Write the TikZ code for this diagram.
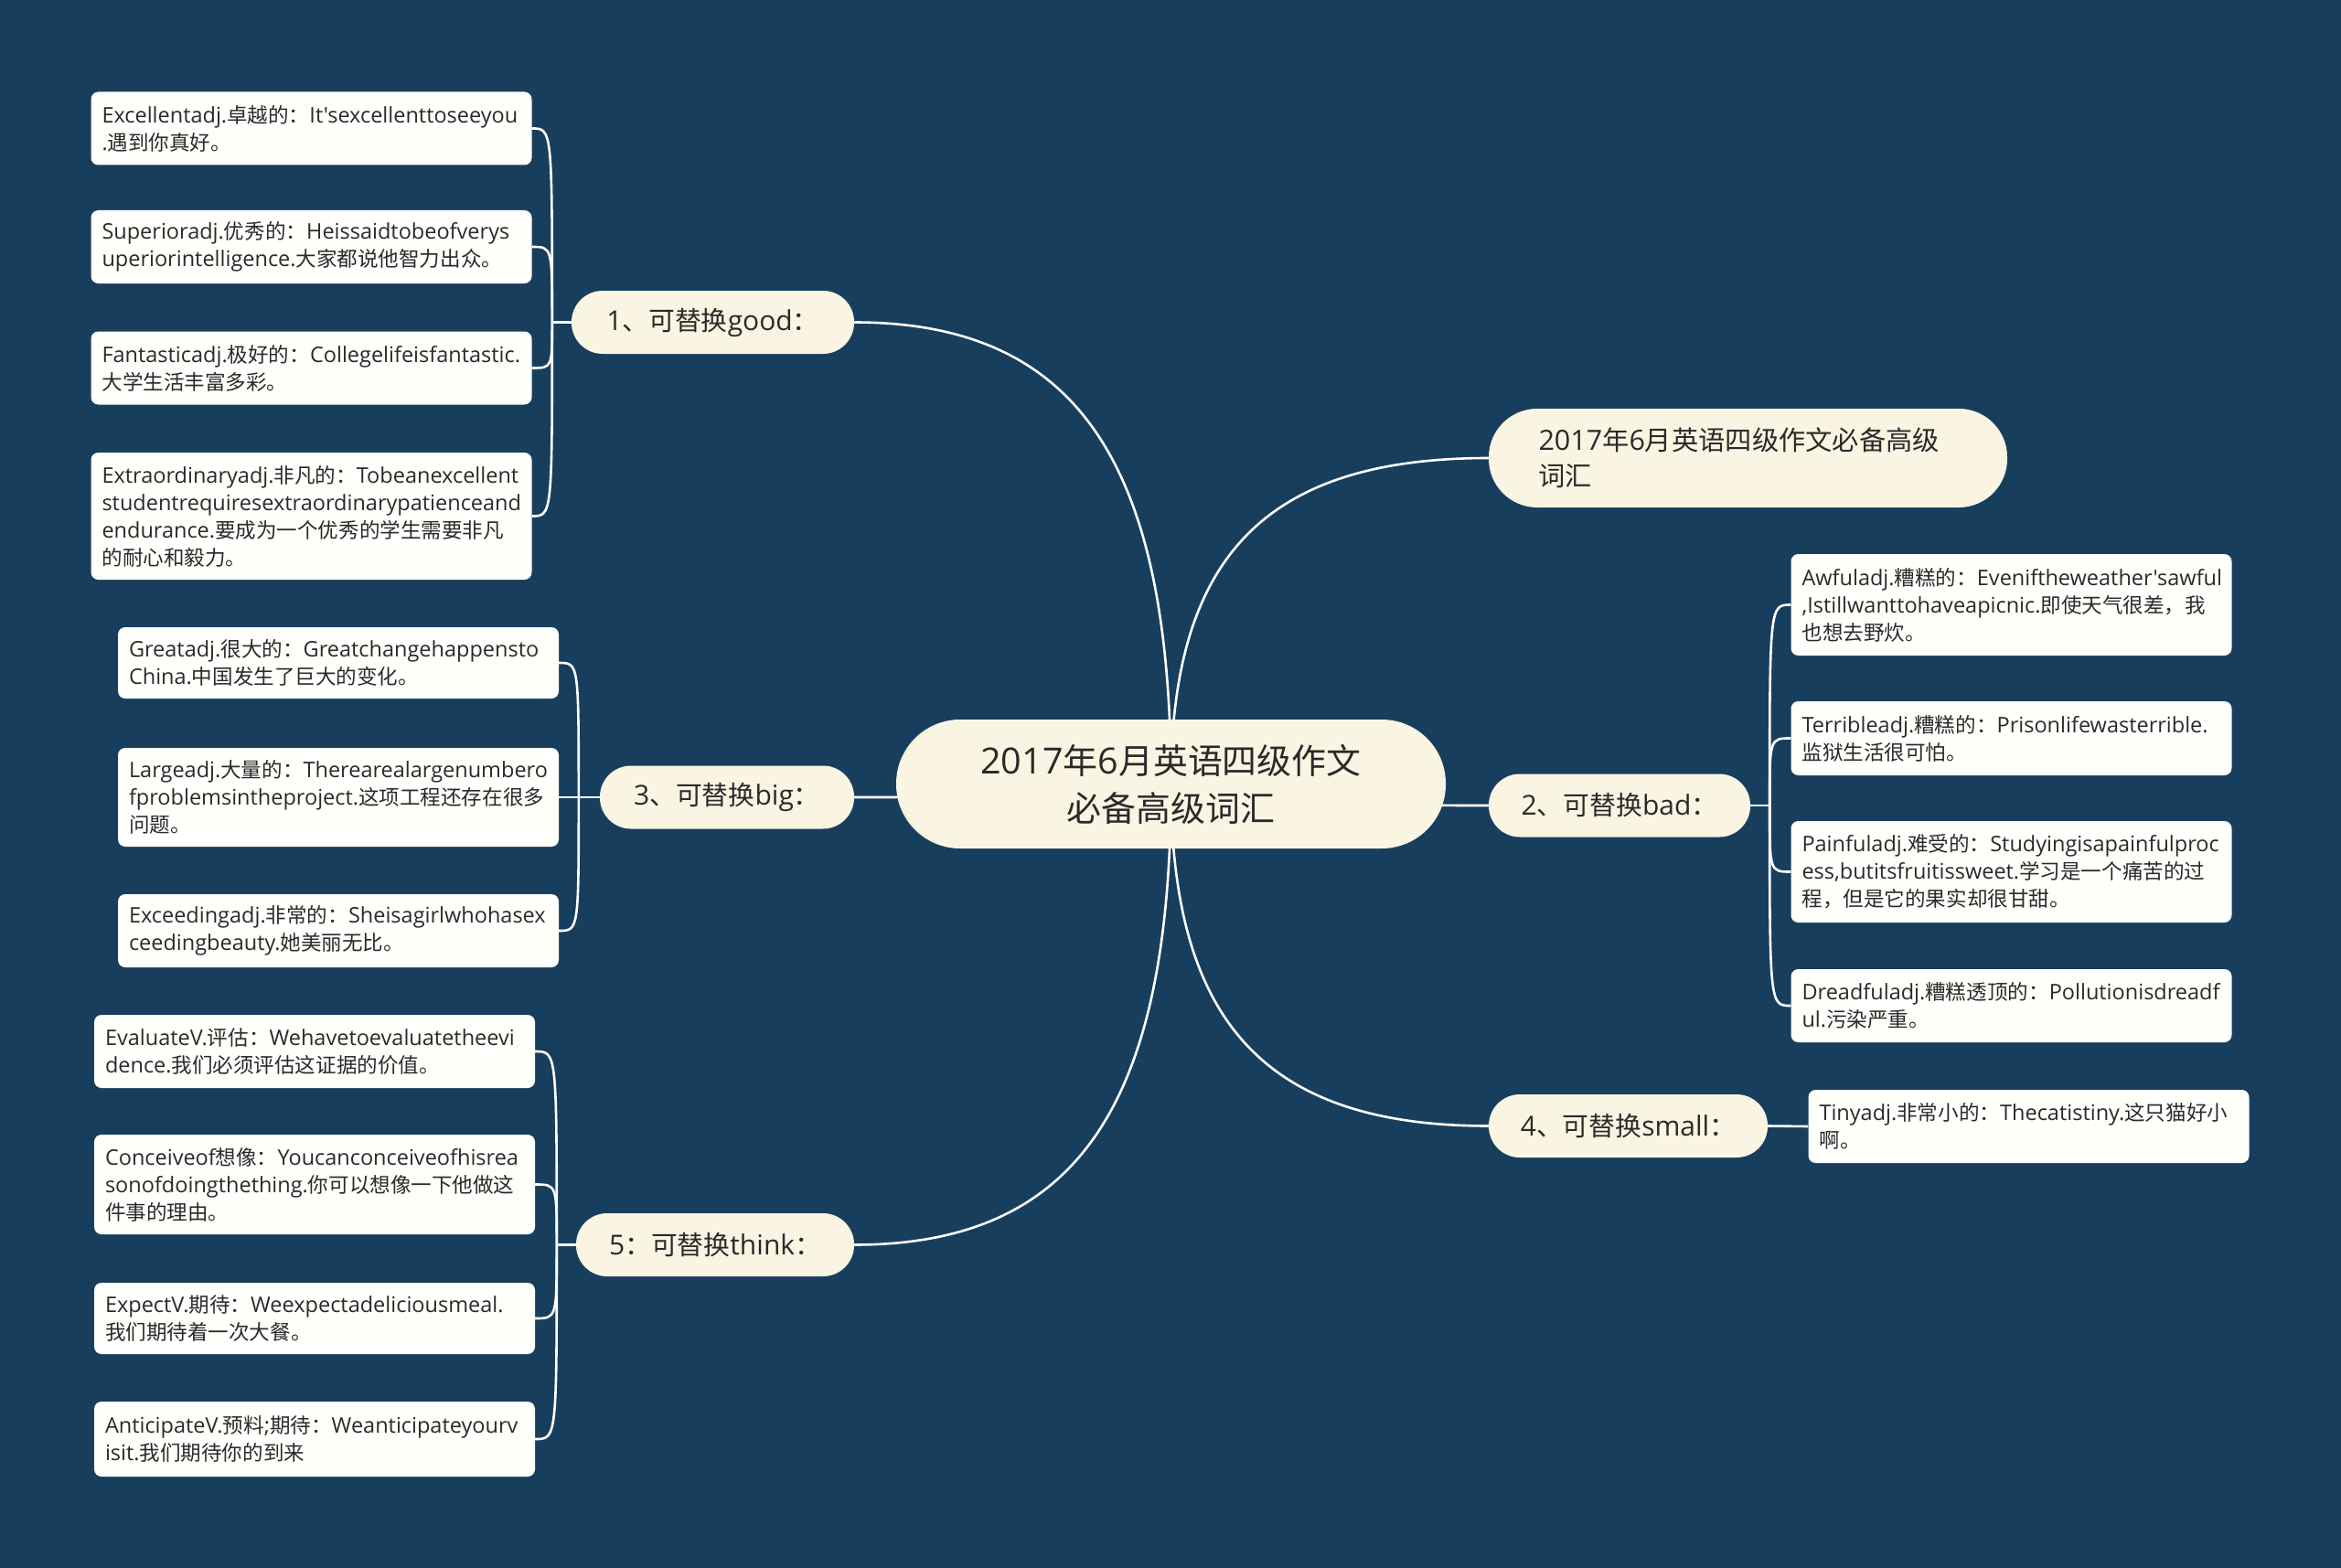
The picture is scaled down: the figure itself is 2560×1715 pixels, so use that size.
\documentclass[tikz,border=0pt]{standalone}
\usepackage{fontspec}
\usetikzlibrary{calc}

\newfontfamily\latinfont{Open Sans}
\newfontfamily\cjk{Noto Sans CJK SC}[Scale=0.96]

% 中西文字体自动切换
\XeTeXinterchartokenstate=1
\newXeTeXintercharclass\cjkclass
\newcount\cjkcode
\def\setcjkrange#1#2{\cjkcode=#1 \loop\XeTeXcharclass\cjkcode=\cjkclass\advance\cjkcode by 1 \ifnum\cjkcode<#2 \repeat}
\setcjkrange{"3000}{"3040}
\setcjkrange{"4E00}{"A000}
\setcjkrange{"FF00}{"FFF0}
\XeTeXinterchartoks 0 \cjkclass = {\cjk}
\XeTeXinterchartoks 4095 \cjkclass = {\cjk}
\XeTeXinterchartoks \cjkclass 0 = {\latinfont}
\XeTeXinterchartoks 4095 0 = {\latinfont}

\definecolor{bgblue}{HTML}{183E5E}
\definecolor{cream}{HTML}{F9F5E2}
\definecolor{paper}{HTML}{FFFFFC}
\definecolor{ink}{HTML}{2A2A2A}

\pgfdeclarelayer{bg}
\pgfsetlayers{bg,main}

\begin{document}
\begin{tikzpicture}[
  x=1pt, y=-1pt,
  every node/.style={inner sep=0pt, text=ink},
  rootbox/.style={fill=cream, rounded corners=70pt, minimum width=601pt,
    minimum height=141pt, align=center, font={\fontsize{39.5}{52}\selectfont}},
  topic/.style={fill=cream, rounded corners=34pt, minimum height=69pt,
    align=center, font={\fontsize{30}{39}\selectfont}},
  leaf/.style={fill=paper, rounded corners=8pt, text width=458pt, inner xsep=12pt,
    minimum height=#1, align=left, font={\fontsize{23.5}{30}\selectfont}},
  leaf/.default=80pt,
  link/.style={draw=white, line width=2.6pt},
]

\useasboundingbox (0,0) rectangle (2560,1715);

% 中心主题
\node[rootbox] (root) at (1280.5,857.5) {2017年6月英语四级作文\\必备高级词汇};

% 一级分支
\node[topic, minimum width=309pt] (good) at (779.5,352.5) {1、可替换good：};
\node[topic, minimum width=278pt] (big) at (795,872) {3、可替换big：};
\node[topic, minimum width=304pt] (think) at (782,1361.5) {5：可替换think：};
\node[topic, minimum width=567pt, minimum height=108pt, rounded corners=53pt,
  text width=458pt, align=left, font={\fontsize{30.5}{39}\selectfont}]
  (title) at (1911.5,501) {2017年6月英语四级作文必备高级\\词汇};
\node[topic, minimum width=286pt] (bad) at (1771,881) {2、可替换bad：};
\node[topic, minimum width=305pt] (small) at (1780.5,1231.5) {4、可替换small：};

% good
\node[leaf] (exc) at (340.5,140.5) {Excellentadj.卓越的：It'sexcellenttoseeyou\\.遇到你真好。};
\node[leaf] (sup) at (340.5,270) {Superioradj.优秀的：Heissaidtobeofverys\\uperiorintelligence.大家都说他智力出众。};
\node[leaf] (fan) at (340.5,402.5) {Fantasticadj.极好的：Collegelifeisfantastic.\\大学生活丰富多彩。};
\node[leaf=139pt] (ext) at (340.5,564.5) {Extraordinaryadj.非凡的：Tobeanexcellent\\studentrequiresextraordinarypatienceand\\endurance.要成为一个优秀的学生需要非凡\\的耐心和毅力。};

% big
\node[leaf=78pt] (gre) at (370,725) {Greatadj.很大的：Greatchangehappensto\\China.中国发生了巨大的变化。};
\node[leaf=108pt] (lar) at (370,872) {Largeadj.大量的：Therearealargenumbero\\fproblemsintheproject.这项工程还存在很多\\问题。};
\node[leaf] (exd) at (370,1018) {Exceedingadj.非常的：Sheisagirlwhohasex\\ceedingbeauty.她美丽无比。};

% think
\node[leaf] (eva) at (344,1150) {EvaluateV.评估：Wehavetoevaluatetheevi\\dence.我们必须评估这证据的价值。};
\node[leaf=109pt] (con) at (344,1295.5) {Conceiveof想像：Youcanconceiveofhisrea\\sonofdoingthething.你可以想像一下他做这\\件事的理由。};
\node[leaf=78pt] (exp) at (344,1442) {ExpectV.期待：Weexpectadeliciousmeal.\\我们期待着一次大餐。};
\node[leaf=82pt] (ant) at (344,1574) {AnticipateV.预料;期待：Weanticipateyourv\\isit.我们期待你的到来};

% bad
\node[leaf=111pt] (awf) at (2199.5,661.5) {Awfuladj.糟糕的：Eveniftheweather'sawful\\,Istillwanttohaveapicnic.即使天气很差，我\\也想去野炊。};
\node[leaf=81pt] (ter) at (2199.5,807.5) {Terribleadj.糟糕的：Prisonlifewasterrible.\\监狱生活很可怕。};
\node[leaf=111pt] (pai) at (2199.5,953.5) {Painfuladj.难受的：Studyingisapainfulproc\\ess,butitsfruitissweet.学习是一个痛苦的过\\程，但是它的果实却很甘甜。};
\node[leaf] (dre) at (2199.5,1100) {Dreadfuladj.糟糕透顶的：Pollutionisdreadf\\ul.污染严重。};

% small
\node[leaf] (tin) at (2218.5,1232) {Tinyadj.非常小的：Thecatistiny.这只猫好小\\啊。};

% 分叉点
\coordinate (jgood) at ($(good.west)+(-21,0)$);
\coordinate (jbig) at ($(big.west)+(-23,0)$);
\coordinate (jthink) at ($(think.west)+(-21,0)$);
\coordinate (jbad) at ($(bad.east)+(21,0)$);

\begin{pgfonlayer}{bg}
\fill[bgblue] (0,0) rectangle (2560,1715);

% 中心到分支
\foreach \t in {good,big,think}
  \draw[link] (root.center) .. controls ($(root.center)!0.7!(root.center |- \t.east)$)
    and ($(\t.east)!0.7!(\t.east -| root.center)$) .. (\t.east);
\foreach \t in {title,bad,small}
  \draw[link] (root.center) .. controls ($(root.center)!0.7!(root.center |- \t.west)$)
    and ($(\t.west)!0.7!(\t.west -| root.center)$) .. (\t.west);

% 分支到叶子
\draw[link] (good.west) -- (jgood);
\foreach \l in {exc,sup,fan,ext}
  \draw[link] (jgood) .. controls (jgood |- \l.east) and (jgood |- \l.east) .. (\l.east);
\draw[link] (big.west) -- (jbig);
\foreach \l in {gre,lar,exd}
  \draw[link] (jbig) .. controls (jbig |- \l.east) and (jbig |- \l.east) .. (\l.east);
\draw[link] (think.west) -- (jthink);
\foreach \l in {eva,con,exp,ant}
  \draw[link] (jthink) .. controls (jthink |- \l.east) and (jthink |- \l.east) .. (\l.east);
\draw[link] (bad.east) -- (jbad);
\foreach \l in {awf,ter,pai,dre}
  \draw[link] (jbad) .. controls (jbad |- \l.west) and (jbad |- \l.west) .. (\l.west);
\draw[link] (small.east) -- (tin.west);
\end{pgfonlayer}

\end{tikzpicture}
\end{document}
